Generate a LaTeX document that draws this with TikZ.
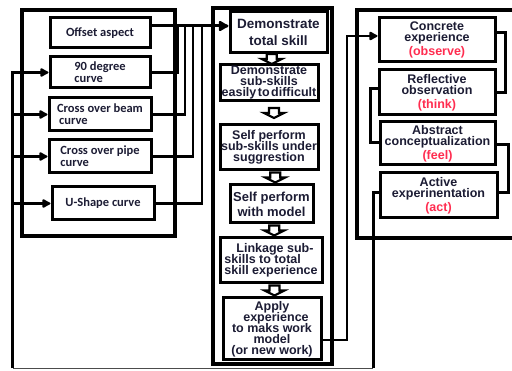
\documentclass[tikz,border=0pt]{standalone}
\usepackage{fontspec}
\setmainfont{Liberation Sans}
\newfontfamily\calib{Carlito}
\usetikzlibrary{arrows.meta,calc}
\definecolor{txt}{RGB}{28,28,52}
\definecolor{redt}{RGB}{255,45,80}
\newcommand\tightls{\lineskiplimit=-100pt\relax\lineskip=0pt\relax}
\begin{document}
\begin{tikzpicture}[x=1pt,y=-1pt,
  box/.style={draw,line width=3pt,fill=white,inner sep=0pt,align=center,text=txt},
  lbox/.style={box,font={\calib\bfseries\fontsize{12.5}{11.8}\selectfont\tightls}},
  mbox/.style={box,font={\bfseries\fontsize{12.5}{11}\selectfont\tightls}},
  rbox/.style={box,font={\bfseries\fontsize{12.5}{11}\selectfont\tightls}},
  frame/.style={draw,line width=4.5pt},
  conn/.style={draw,line width=3pt},
  joinline/.style={draw,line width=2.2pt},
  tip/.style={-{Latex[length=10pt,width=11pt,round]}},
  downarr/.pic={\draw[line width=2.2pt,fill=white,line join=miter]
     (-5,-5) -- (5,-5) -- (5,0) -- (10,0) -- (0,5) -- (-10,0) -- (-5,0) -- cycle;}
]
\useasboundingbox (0,0) rectangle (512,371);
% frames
\draw[frame] (22,10) rectangle (175,236);
\draw[frame] (213,8) rectangle (332,364);
\draw[frame] (357,10) rectangle (530,238);

% left boxes
\node[lbox,minimum width=100pt,minimum height=30pt] (offset) at (100,33) {Offset aspect};
\node[lbox,minimum width=100pt,minimum height=31pt,align=left] (deg90) at (100,72.5) {90 degree\\curve};
\node[lbox,minimum width=102pt,minimum height=33pt,align=left] (beam) at (100,114.5) {Cross over beam\\\hspace{2pt}curve};
\node[lbox,minimum width=102pt,minimum height=33pt,align=left] (pipe) at (100,156.5) {Cross over pipe\\curve};
\node[lbox,minimum width=102pt,minimum height=33pt] (ushape) at (103,203.5) {U-Shape curve};

% middle boxes
\node[mbox,font={\bfseries\fontsize{13.5}{17}\selectfont},minimum width=97pt,minimum height=41pt] (dts) at (278.5,32.5) {Demonstrate\\total skill};
\node[mbox,minimum width=98pt,minimum height=36pt] (dss) at (269,83) {Demonstrate\\sub-skills\\easily\hspace{1.5pt}to\hspace{1.5pt}difficult};
\node[mbox,minimum width=98pt,minimum height=45pt] (sps) at (269,147.5) {Self perform\\sub-skills under\\suggrestion};
\node[mbox,font={\bfseries\fontsize{13}{15}\selectfont},minimum width=83pt,minimum height=38pt] (spm) at (271.5,204) {Self perform\\with model};
\node[mbox,minimum width=102pt,minimum height=45pt,align=left] (lnk) at (271,260.5) {\hspace{12pt}Linkage sub-\\skills to total\\skill experience};
\node[mbox,minimum width=98pt,minimum height=62pt] (app) at (272,329) {Apply\\\hspace{8pt}experience\\to maks work\\model\\(or new work)};

% right boxes
\node[rbox,minimum width=116pt,minimum height=44pt] (ce) at (437,40) {Concrete\\experience\\[3pt]\textcolor{redt}{(observe)}};
\node[rbox,minimum width=116pt,minimum height=45pt] (ro) at (437,92.5) {Reflective\\observation\\[3pt]\textcolor{redt}{(think)}};
\node[rbox,minimum width=115pt,minimum height=43pt] (ac) at (437.5,143.5) {Abstract\\conceptualization\\[3pt]\textcolor{redt}{(feel)}};
\node[rbox,minimum width=117pt,minimum height=45pt] (ae) at (438.5,195.5) {Active\\experinentation\\[3pt]\textcolor{redt}{(act)}};

% hollow arrows in the middle column
\pic at ($(dts.south)!0.5!(dss.north)+(-2,0)$) {downarr};
\pic at ($(dss.south)!0.5!(sps.north)+(5,0)$) {downarr};
\pic at ($(sps.south)!0.5!(spm.north)+(5,0)$) {downarr};
\pic at ($(spm.south)!0.5!(lnk.north)+(3,0)$) {downarr};
\pic at ($(lnk.south)!0.5!(app.north)+(3,0)$) {downarr};

% left boxes to middle
\coordinate (row) at (0,26);
\coordinate (j1) at (178,26);
\coordinate (j2) at (185,26);
\coordinate (j3) at (193,26);
\coordinate (j4) at (202,26);
\draw[joinline] (deg90.east) -| (j1);
\draw[joinline] (beam.east) -| (j2);
\draw[joinline] (pipe.east) -| (j3);
\draw[joinline] (ushape.east) -| (j4);
\draw[conn,-{Latex[length=12pt,width=13pt,round]}] (offset.east |- row) -- (dts.west |- row);

% apply to concrete experience
\coordinate (ar) at (347,36);
\draw[joinline,tip] ([yshift=-11pt]app.east) -| (ar) -- (ce.west |- ar);

% right cycle
\coordinate (rb1) at (505,60);
\coordinate (lb1) at (370,115);
\coordinate (rb2) at (508,170);
\draw[conn] ([yshift=7pt]ce.east) -| (rb1) |- (ro.east);
\draw[conn] ([yshift=4pt]ro.west) -| (lb1) |- ([yshift=0.5pt]ac.west);
\draw[conn] ([yshift=-1.5pt]ac.east) -| (rb2) |- ([yshift=2.5pt]ae.east);

% return loop
\coordinate (br) at (373,368.5);
\coordinate (bl) at (12.5,368.5);
\draw[conn] ([yshift=2.5pt]ae.west) -| (br);
\draw[line width=1.6pt,draw=black!70] (br) -- (bl);
\draw[conn,tip] (bl) |- (deg90.west);
\draw[conn,tip] (bl |- beam.west) -- (beam.west);
\draw[conn,tip] (bl |- pipe.west) -- (pipe.west);
\draw[conn,tip] (bl |- ushape.west) -- (ushape.west);
\end{tikzpicture}
\end{document}
